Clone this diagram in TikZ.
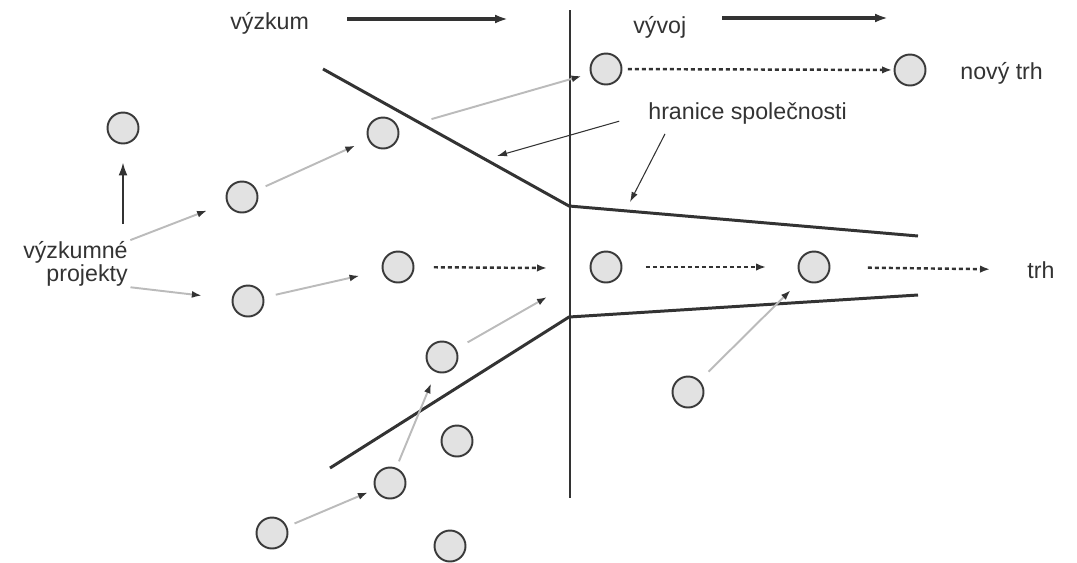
\documentclass[tikz,border=0pt]{standalone}
\usepackage{fontspec}
\setmainfont{Liberation Sans}
\usetikzlibrary{arrows.meta}

\definecolor{ballfill}{HTML}{E2E2E2}
\definecolor{ballrim}{HTML}{3A3A3A}
\definecolor{lightarr}{HTML}{BBBBBB}
\definecolor{inkline}{HTML}{333333}

\begin{document}
\begin{tikzpicture}[
  x=0.02cm, y=-0.02cm,
  font=\fontsize{13.2}{12}\selectfont,
  ball/.style={circle,draw=ballrim,fill=ballfill,line width=1.1pt,minimum size=6.2mm,inner sep=0pt},
  lbl/.style={text=inkline,inner sep=0pt},
  grayarr/.style={-{Latex[length=2mm,width=1.4mm,color=inkline]},draw=lightarr,line width=1.1pt},
  dotarr/.style={-{Latex[length=2mm,width=1.5mm]},draw=inkline,line width=1.4pt,dash pattern=on 0.8mm off 0.6mm},
  bigarr/.style={-{Latex[length=2.6mm,width=1.8mm]},draw=inkline,line width=2pt},
  bound/.style={draw=inkline,line width=1.7pt},
  pointer/.style={-{Latex[length=2mm,width=1.3mm]},draw=inkline,line width=0.6pt}
]
\useasboundingbox (0,0) rectangle (1077,562);

% projects
\node[ball] (top) at (123,128) {};
\node[ball] (r1) at (242,197) {};
\node[ball] (r2) at (383,133) {};
\node[ball] (d1) at (606,69) {};
\node[ball] (nt) at (910,70) {};
\node[ball] (s1) at (248,301) {};
\node[ball] (s2) at (398,267) {};
\node[ball] (s3) at (606,267) {};
\node[ball] (s4) at (814,267) {};
\node[ball] (u1) at (442,357) {};
\node[ball] (u2) at (457,441) {};
\node[ball] (u3) at (390,483) {};
\node[ball] (u4) at (272,533) {};
\node[ball] (u5) at (450,546) {};
\node[ball] (v1) at (688,392) {};

% labels
\node[lbl,anchor=base west] (vyzkum) at (230,29) {výzkum};
\node[lbl,anchor=base west] (vyvoj) at (633,33) {vývoj};
\node[lbl,anchor=base west] (novytrh) at (960,79) {nový trh};
\node[lbl,anchor=base west] (hranice) at (648,119) {hranice společnosti};
\node[lbl,anchor=base west] (trh) at (1027,278) {trh};
\node[lbl,align=right,anchor=north east] (proj) at (128,241) {výzkumné\\projekty};

% direction arrows and divider
\coordinate (rsA) at (347,19);
\coordinate (rsB) at (508,19);
\coordinate (dvA) at (722,18);
\coordinate (dvB) at (888,18);
\draw[bigarr] (rsA) -- (rsB);
\draw[bigarr] (dvA) -- (dvB);

\coordinate (divTop) at (570,10);
\coordinate (divBot) at (570,498);
\draw[draw=inkline,line width=1.3pt] (divTop) -- (divBot);

% company boundary
\coordinate (bUL) at (323,69);
\coordinate (bUM) at (569,206);
\coordinate (bUR) at (918,236);
\coordinate (bLL) at (330,468);
\coordinate (bLM) at (569,317);
\coordinate (bLR) at (918,295);
\draw[bound] (bUL) -- (bUM) -- (bUR);
\draw[bound] (bLL) -- (bLM) -- (bLR);

\coordinate (tipA) at (497,156);
\coordinate (tipB) at (630,202);
\draw[pointer,shorten <=6mm] (hranice.west) -- (tipA);
\draw[pointer,shorten <=2.2mm] ([xshift=4.4mm]hranice.south west) -- (tipB);

% flows
\draw[bigarr,line width=1.1pt,shorten <=3.4mm,shorten >=3.6mm] (proj.north -| top) -- (top);
\draw[grayarr,shorten <=0.5mm,shorten >=4.2mm] (proj.north east) -- (r1);
\draw[grayarr,shorten <=0.5mm,shorten >=6mm] (proj.south east) -- (s1);
\draw[grayarr,shorten <=1.9mm,shorten >=2.8mm] (r1) -- (r2);
\draw[grayarr,shorten <=6.8mm,shorten >=1.8mm] (r2) -- (d1);
\draw[grayarr,shorten <=2.4mm,shorten >=4.6mm] (s1) -- (s2);
\draw[grayarr,shorten <=1.6mm,shorten >=1.5mm] (u4) -- (u3);
\draw[grayarr,shorten <=1.4mm,shorten >=2.4mm] (u3) -- (u1);
\draw[grayarr,shorten <=2.5mm,shorten >=3.3mm] (v1) -- (s4);

\coordinate (s2end) at (547,268);
\coordinate (u1end) at (547,297);
\draw[grayarr,shorten <=2.6mm] (u1) -- (u1end);

\draw[dotarr,shorten <=1.1mm,shorten >=0.3mm] (d1) -- (nt);
\draw[dotarr,shorten <=3.9mm] (s2) -- (s2end);
\draw[dotarr,shorten <=4.7mm,shorten >=6.3mm] (s3) -- (s4);
\draw[dotarr,shorten <=7.5mm,shorten >=7.4mm] (s4) -- (trh.west);

\end{tikzpicture}
\end{document}
